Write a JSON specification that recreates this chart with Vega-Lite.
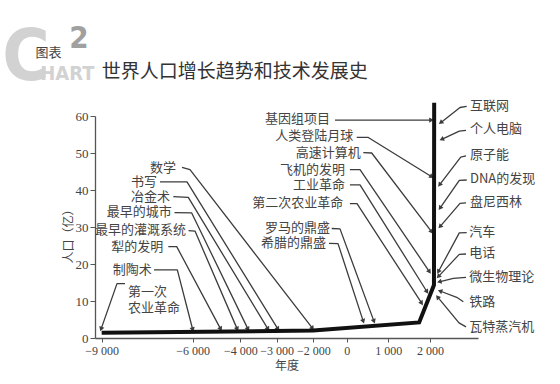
{
  "$schema": "https://vega.github.io/schema/vega-lite/v6.json",
  "width": 383,
  "height": 222,
  "autosize": "none",
  "padding": {"left": 95, "top": 116, "right": 82, "bottom": 46},
  "background": "white",
  "config": {"view": {"stroke": null}, "axis": {"grid": false}},
  "datasets": {
    "population": [
      {"year": -9000, "pop": 1.4},
      {"year": -2000, "pop": 2.0},
      {"year": 1740, "pop": 4.2},
      {"year": 2095, "pop": 14.3},
      {"year": 2100, "pop": 63.6}
    ],
    "labels": [
      {"label": "数学", "side": "L", "year": -6550, "pop": 45.9},
      {"label": "书写", "side": "L", "year": -7176, "pop": 42.2},
      {"label": "冶金术", "side": "L", "year": -6748, "pop": 38.2},
      {"label": "最早的城市", "side": "L", "year": -6692, "pop": 34.0},
      {"label": "最早的灌溉系统", "side": "L", "year": -6221, "pop": 29.1},
      {"label": "犁的发明", "side": "L", "year": -6969, "pop": 24.7},
      {"label": "制陶术", "side": "L", "year": -7351, "pop": 18.5},
      {"label": "基因组项目", "side": "L", "year": -1000, "pop": 59.2},
      {"label": "人类登陆月球", "side": "L", "year": 159, "pop": 54.5},
      {"label": "高速计算机", "side": "L", "year": 337, "pop": 50.0},
      {"label": "飞机的发明", "side": "L", "year": -102, "pop": 45.4},
      {"label": "工业革命", "side": "L", "year": -102, "pop": 41.4},
      {"label": "第二次农业革命", "side": "L", "year": -204, "pop": 36.4},
      {"label": "罗马的鼎盛", "side": "L", "year": -1000, "pop": 29.6},
      {"label": "希腊的鼎盛", "side": "L", "year": -1240, "pop": 25.6},
      {"label": "第一次\n农业革命", "side": "R", "year": -8132, "pop": 12.4},
      {"label": "互联网", "side": "R", "year": 2958, "pop": 62.7},
      {"label": "个人电脑", "side": "R", "year": 2958, "pop": 56.5},
      {"label": "原子能", "side": "R", "year": 2958, "pop": 49.5},
      {"label": "DNA的发现", "side": "R", "year": 2958, "pop": 42.9},
      {"label": "盘尼西林", "side": "R", "year": 2958, "pop": 36.8},
      {"label": "汽车", "side": "R", "year": 2942, "pop": 28.7},
      {"label": "电话", "side": "R", "year": 2942, "pop": 23.1},
      {"label": "微生物理论", "side": "R", "year": 2942, "pop": 16.6},
      {"label": "铁路", "side": "R", "year": 2942, "pop": 9.8},
      {"label": "瓦特蒸汽机", "side": "R", "year": 2942, "pop": 3.1}
    ],
    "leaders": [
      {"label": "数学", "seq": 1, "year": -6352, "pop": 46.1},
      {"label": "数学", "seq": 2, "year": -6089, "pop": 45.5},
      {"label": "数学", "seq": 3, "year": -2020, "pop": 2.6, "heading": 52},
      {"label": "书写", "seq": 1, "year": -7078, "pop": 42.2},
      {"label": "书写", "seq": 2, "year": -6188, "pop": 42.2},
      {"label": "书写", "seq": 3, "year": -2965, "pop": 2.4, "heading": 58},
      {"label": "冶金术", "seq": 1, "year": -6639, "pop": 38.2},
      {"label": "冶金术", "seq": 2, "year": -6145, "pop": 38.0},
      {"label": "冶金术", "seq": 3, "year": -3238, "pop": 2.4, "heading": 59},
      {"label": "最早的城市", "seq": 1, "year": -6600, "pop": 33.9},
      {"label": "最早的城市", "seq": 2, "year": -6033, "pop": 33.8},
      {"label": "最早的城市", "seq": 3, "year": -3788, "pop": 2.4, "heading": 64},
      {"label": "最早的灌溉系统", "seq": 1, "year": -6138, "pop": 29.0},
      {"label": "最早的灌溉系统", "seq": 2, "year": -5903, "pop": 28.9},
      {"label": "最早的灌溉系统", "seq": 3, "year": -4127, "pop": 2.4, "heading": 67},
      {"label": "犁的发明", "seq": 1, "year": -6804, "pop": 24.7},
      {"label": "犁的发明", "seq": 2, "year": -6527, "pop": 24.7},
      {"label": "犁的发明", "seq": 3, "year": -4824, "pop": 2.4, "heading": 62},
      {"label": "制陶术", "seq": 1, "year": -7275, "pop": 18.4},
      {"label": "制陶术", "seq": 2, "year": -6507, "pop": 18.4},
      {"label": "制陶术", "seq": 3, "year": -6000, "pop": 2.3, "heading": 76},
      {"label": "第一次农业革命", "seq": 1, "year": -8231, "pop": 14.7},
      {"label": "第一次农业革命", "seq": 2, "year": -8495, "pop": 14.7},
      {"label": "第一次农业革命", "seq": 3, "year": -9020, "pop": 2.4, "heading": 109},
      {"label": "基因组项目", "seq": 1, "year": -700, "pop": 58.9},
      {"label": "基因组项目", "seq": 2, "year": 2036, "pop": 58.9, "heading": 0},
      {"label": "人类登陆月球", "seq": 1, "year": 240, "pop": 54.2},
      {"label": "人类登陆月球", "seq": 2, "year": 519, "pop": 54.2},
      {"label": "人类登陆月球", "seq": 3, "year": 2041, "pop": 43.6, "heading": 32},
      {"label": "高速计算机", "seq": 1, "year": 399, "pop": 50.1},
      {"label": "高速计算机", "seq": 2, "year": 601, "pop": 50.0},
      {"label": "高速计算机", "seq": 3, "year": 2041, "pop": 28.7, "heading": 53},
      {"label": "飞机的发明", "seq": 1, "year": 77, "pop": 45.5},
      {"label": "飞机的发明", "seq": 2, "year": 320, "pop": 45.5},
      {"label": "飞机的发明", "seq": 3, "year": 1988, "pop": 17.9, "heading": 56},
      {"label": "工业革命", "seq": 1, "year": 77, "pop": 41.4},
      {"label": "工业革命", "seq": 2, "year": 320, "pop": 41.4},
      {"label": "工业革命", "seq": 3, "year": 1928, "pop": 12.5, "heading": 58},
      {"label": "第二次农业革命", "seq": 1, "year": 77, "pop": 36.3},
      {"label": "第二次农业革命", "seq": 2, "year": 248, "pop": 36.3},
      {"label": "第二次农业革命", "seq": 3, "year": 1801, "pop": 9.4, "heading": 57},
      {"label": "罗马的鼎盛", "seq": 1, "year": -898, "pop": 29.6},
      {"label": "罗马的鼎盛", "seq": 2, "year": -401, "pop": 29.5},
      {"label": "罗马的鼎盛", "seq": 3, "year": 656, "pop": 4.5, "heading": 70},
      {"label": "希腊的鼎盛", "seq": 1, "year": -1060, "pop": 25.6},
      {"label": "希腊的鼎盛", "seq": 2, "year": -520, "pop": 25.5},
      {"label": "希腊的鼎盛", "seq": 3, "year": 399, "pop": 4.5, "heading": 72},
      {"label": "互联网", "seq": 1, "year": 2879, "pop": 62.6},
      {"label": "互联网", "seq": 2, "year": 2719, "pop": 62.3},
      {"label": "互联网", "seq": 3, "year": 2256, "pop": 58.2, "heading": 142},
      {"label": "个人电脑", "seq": 1, "year": 2863, "pop": 56.1},
      {"label": "个人电脑", "seq": 2, "year": 2702, "pop": 55.9},
      {"label": "个人电脑", "seq": 3, "year": 2280, "pop": 53.7, "heading": 155},
      {"label": "原子能", "seq": 1, "year": 2863, "pop": 49.2},
      {"label": "原子能", "seq": 2, "year": 2736, "pop": 48.9},
      {"label": "原子能", "seq": 3, "year": 2228, "pop": 41.4, "heading": 127},
      {"label": "DNA的发现", "seq": 1, "year": 2879, "pop": 42.7},
      {"label": "DNA的发现", "seq": 2, "year": 2702, "pop": 42.6},
      {"label": "DNA的发现", "seq": 3, "year": 2240, "pop": 35.1, "heading": 125},
      {"label": "盘尼西林", "seq": 1, "year": 2863, "pop": 36.5},
      {"label": "盘尼西林", "seq": 2, "year": 2719, "pop": 36.4},
      {"label": "盘尼西林", "seq": 3, "year": 2240, "pop": 30.1, "heading": 131},
      {"label": "汽车", "seq": 1, "year": 2879, "pop": 28.5},
      {"label": "汽车", "seq": 2, "year": 2702, "pop": 28.4},
      {"label": "汽车", "seq": 3, "year": 2199, "pop": 17.9, "heading": 119},
      {"label": "电话", "seq": 1, "year": 2863, "pop": 22.7},
      {"label": "电话", "seq": 2, "year": 2702, "pop": 22.6},
      {"label": "电话", "seq": 3, "year": 2199, "pop": 16.6, "heading": 133},
      {"label": "微生物理论", "seq": 1, "year": 2863, "pop": 16.4},
      {"label": "微生物理论", "seq": 2, "year": 2558, "pop": 16.1},
      {"label": "微生物理论", "seq": 3, "year": 2223, "pop": 15.2, "heading": 166},
      {"label": "铁路", "seq": 1, "year": 2799, "pop": 9.8},
      {"label": "铁路", "seq": 2, "year": 2640, "pop": 11.0},
      {"label": "铁路", "seq": 3, "year": 2240, "pop": 12.7, "heading": 201},
      {"label": "瓦特蒸汽机", "seq": 1, "year": 2863, "pop": 3.0},
      {"label": "瓦特蒸汽机", "seq": 2, "year": 2695, "pop": 4.1},
      {"label": "瓦特蒸汽机", "seq": 3, "year": 2180, "pop": 11.1, "heading": 230}
    ],
    "heading": [
      {"label": "C", "year": -11494, "pop": 75.7},
      {"label": "2", "year": -9747, "pop": 80.8},
      {"label": "HART", "year": -10130, "pop": 71.4},
      {"label": "图表", "year": -10753, "pop": 77.0},
      {"label": "世界人口增长趋势和技术发展史", "year": -9000, "pop": 71.9}
    ]
  },
  "encoding": {
    "x": {
      "field": "year",
      "type": "quantitative",
      "scale": {
        "domain": [-9220, -6000, -4000, -3000, -2000, 0, 1000, 2000, 3150],
        "range": [0, 97.7, 145.3, 181.7, 218.3, 251.7, 293.3, 335, 383],
        "nice": false,
        "zero": false
      },
      "axis": {
        "values": [-9000, -6000, -4000, -3000, -2000, 0, 1000, 2000],
        "labelExpr": "replace(format(datum.value, ','), ',', ' ')",
        "title": "年度",
        "titleFont": "Noto Sans CJK SC",
        "titleFontWeight": "normal",
        "titleFontSize": 12,
        "titleColor": "#444444",
        "titlePadding": 4,
        "labelFont": "Liberation Serif",
        "labelFontSize": 12,
        "labelColor": "#444444",
        "labelPadding": 3,
        "labelOverlap": false,
        "labelFlush": false,
        "tickSize": 4,
        "tickColor": "#555555",
        "domainColor": "#555555",
        "domainWidth": 1.3
      }
    },
    "y": {
      "field": "pop",
      "type": "quantitative",
      "scale": {"domain": [0, 60], "nice": false, "zero": true},
      "axis": {
        "values": [0, 10, 20, 30, 40, 50, 60],
        "title": "人口（亿）",
        "titleFont": "Noto Sans CJK SC",
        "titleFontWeight": "normal",
        "titleFontSize": 12,
        "titleColor": "#444444",
        "titleX": -20,
        "titleY": 117,
        "labelFont": "Liberation Serif",
        "labelFontSize": 13,
        "labelColor": "#444444",
        "labelPadding": 2,
        "tickSize": 5,
        "tickColor": "#555555",
        "domainColor": "#555555",
        "domainWidth": 1.3
      }
    }
  },
  "layer": [
    {
      "data": {"name": "heading"},
      "transform": [{"filter": "datum.label == 'C'"}],
      "mark": {"type": "text", "font": "Liberation Sans Narrow, DejaVu Sans Condensed, Liberation Sans", "fontWeight": "bold", "fontSize": 72, "color": "#d2d2d2", "align": "center", "baseline": "middle"},
      "encoding": {"text": {"field": "label"}}
    },
    {
      "data": {"name": "heading"},
      "transform": [{"filter": "datum.label == '2'"}],
      "mark": {"type": "text", "font": "Liberation Sans Narrow, DejaVu Sans Condensed, Liberation Sans", "fontWeight": "bold", "fontSize": 31, "color": "#a0a0a0", "align": "center", "baseline": "middle"},
      "encoding": {"text": {"field": "label"}}
    },
    {
      "data": {"name": "heading"},
      "transform": [{"filter": "datum.label == 'HART'"}],
      "mark": {"type": "text", "font": "Liberation Sans Narrow, DejaVu Sans Condensed, Liberation Sans", "fontWeight": "bold", "fontSize": 20, "color": "#d2d2d2", "align": "center", "baseline": "middle"},
      "encoding": {"text": {"field": "label"}}
    },
    {
      "data": {"name": "heading"},
      "transform": [{"filter": "datum.label == '图表'"}],
      "mark": {"type": "text", "font": "Noto Sans CJK SC", "fontSize": 13, "color": "#444444", "align": "center", "baseline": "middle"},
      "encoding": {"text": {"field": "label"}}
    },
    {
      "data": {"name": "heading"},
      "transform": [{"filter": "length(datum.label) > 4"}],
      "mark": {"type": "text", "font": "Noto Sans CJK SC", "fontSize": 19, "color": "#333333", "align": "left", "baseline": "middle"},
      "encoding": {"text": {"field": "label"}}
    },
    {
      "data": {"name": "leaders"},
      "mark": {"type": "line", "color": "#3c3c3c", "strokeWidth": 1.3, "strokeJoin": "round"},
      "encoding": {"detail": {"field": "label"}, "order": {"field": "seq", "type": "quantitative"}}
    },
    {
      "data": {"name": "leaders"},
      "transform": [{"filter": "isValid(datum.heading)"}],
      "mark": {"type": "point", "shape": "triangle-right", "filled": true, "size": 28, "color": "#3c3c3c", "opacity": 1},
      "encoding": {"angle": {"field": "heading", "type": "quantitative", "scale": null}}
    },
    {
      "data": {"name": "population"},
      "mark": {"type": "line", "color": "#111111", "strokeWidth": 4, "strokeJoin": "miter"},
      "encoding": {}
    },
    {
      "data": {"name": "labels"},
      "transform": [{"filter": "datum.side == 'L'"}],
      "mark": {"type": "text", "font": "Noto Sans CJK SC", "fontSize": 13, "color": "#444444", "align": "right", "baseline": "middle"},
      "encoding": {"text": {"field": "label"}}
    },
    {
      "data": {"name": "labels"},
      "transform": [{"filter": "datum.side == 'R'"}],
      "mark": {"type": "text", "font": "Noto Sans CJK SC", "fontSize": 13, "color": "#444444", "align": "left", "baseline": "middle", "lineBreak": "\n", "lineHeight": 16},
      "encoding": {"text": {"field": "label"}}
    }
  ]
}
